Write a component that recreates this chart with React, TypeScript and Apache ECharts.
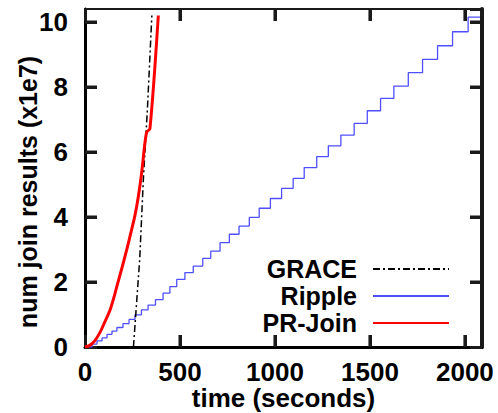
import React, { useEffect, useRef } from "react";
import * as echarts from "echarts";

const xTicks = [0, 500, 1000, 1500, 2000];
const yTicks = [0, 2, 4, 6, 8, 10];

const seriesNames = ["GRACE", "Ripple", "PR-Join"];

// GRACE (time s, results x1e7)
const graceTime = [255, 288, 308, 328, 352];
const graceVal = [0, 2.7, 5.25, 7.25, 10.2];

// Ripple: step corners (time where the step happens, new level)
const rippleTime = [
  0, 37, 63, 90, 116, 142, 168, 200, 232, 263, 297, 332, 371, 411, 447, 483, 526, 570, 620, 662,
  711, 760, 811, 865, 917, 976, 1035, 1096, 1154, 1220, 1281, 1347, 1417, 1486, 1556, 1626, 1702,
  1777, 1856, 1935, 2017, 2089,
];
const rippleVal = [
  0, 0.09, 0.19, 0.28, 0.39, 0.49, 0.6, 0.72, 0.85, 0.99, 1.14, 1.29, 1.46, 1.66, 1.86, 2.08, 2.29,
  2.49, 2.73, 2.95, 3.21, 3.47, 3.72, 3.99, 4.27, 4.57, 4.88, 5.19, 5.52, 5.86, 6.19, 6.52, 6.88,
  7.27, 7.65, 8.03, 8.44, 8.85, 9.27, 9.7, 10.15, 10.15,
];

// PR-Join
const prTime = [0, 25, 50, 79, 105, 132, 150, 167, 193, 219, 240, 263, 280, 298, 316, 326, 342, 386];
const prVal = [0, 0.05, 0.18, 0.45, 0.78, 1.14, 1.48, 1.85, 2.4, 2.98, 3.48, 4.05, 4.6, 5.35, 6.3, 6.62, 6.72, 10.2];

const X_MAX = 2090;
const Y_MAX = 10.4;

const FONT = "'Liberation Sans', Arial, Helvetica, sans-serif";
const INK = "#1a1a1a";

const zip = (a: number[], b: number[]) => a.map((v, i) => [v, b[i]]);

const TICK = 12;
const TW = 3;

export default function App() {
  const ref = useRef<HTMLDivElement>(null);
  useEffect(() => {
    if (!ref.current) return;
    const chart = echarts.init(ref.current, null, { renderer: "svg" });
    const labelStyle = {
      color: "#000",
      fontFamily: FONT,
      fontWeight: "bold" as const,
      fontSize: 26,
    };
    const legendCommon = (name: string, top: number) => ({
      data: [name],
      orient: "vertical" as const,
      right: 43,
      top,
      align: "right" as const,
      itemWidth: 76,
      itemHeight: 12,
      itemGap: 4,
      selectedMode: false,
      itemStyle: { opacity: 0 },
      textStyle: {
        color: "#000",
        fontFamily: FONT,
        fontWeight: "bold" as const,
        fontSize: 25,
        lineHeight: 26,
        padding: [0, 11, 0, 0],
      },
    });
    const fmt = (v: number) => String(v);
    const tickOpt = () => ({ show: true, inside: true, length: TICK, lineStyle: { color: INK, width: TW } });

    const renderXTick = (params: any, api: any) => {
      const v = api.value(0);
      const b = api.coord([v, 0]);
      const t = api.coord([v, Y_MAX]);
      if (v <= 0) return { type: "group", children: [] };
      return {
        type: "group",
        children: [
          { type: "line", shape: { x1: b[0], y1: b[1], x2: b[0], y2: b[1] - TICK }, style: { stroke: INK, lineWidth: TW } },
          { type: "line", shape: { x1: t[0], y1: t[1], x2: t[0], y2: t[1] + TICK }, style: { stroke: INK, lineWidth: TW } },
        ],
      };
    };
    const renderYTick = (params: any, api: any) => {
      const v = api.value(1);
      const l = api.coord([0, v]);
      const r = api.coord([X_MAX, v]);
      if (v <= 0) return { type: "group", children: [] };
      return {
        type: "group",
        children: [
          { type: "line", shape: { x1: l[0], y1: l[1], x2: l[0] + TICK, y2: l[1] }, style: { stroke: INK, lineWidth: TW } },
          { type: "line", shape: { x1: r[0], y1: r[1], x2: r[0] - TICK, y2: r[1] }, style: { stroke: INK, lineWidth: TW } },
        ],
      };
    };
    const renderFrame = (params: any, api: any) => {
      const lb = api.coord([0, 0]);
      const rt = api.coord([X_MAX, Y_MAX]);
      return {
        type: "group",
        children: [
          { type: "line", shape: { x1: lb[0], y1: rt[1], x2: rt[0], y2: rt[1] }, style: { stroke: INK, lineWidth: 2 } },
          { type: "line", shape: { x1: rt[0], y1: rt[1], x2: rt[0], y2: lb[1] }, style: { stroke: INK, lineWidth: 4 } },
        ],
      };
    };

    chart.setOption({
      animation: false,
      grid: {
        left: 85,
        right: 16,
        top: 9,
        bottom: 66,
        outerBoundsMode: "none",
      },
      legend: [legendCommon("GRACE", 251), legendCommon("Ripple", 278), legendCommon("PR-Join", 305)],
      xAxis: [
        {
          type: "value",
          min: 0,
          max: X_MAX,
          interval: 500,
          name: "time (seconds)",
          nameLocation: "middle",
          nameGap: 40,
          nameMoveOverlap: false,
          nameTextStyle: { ...labelStyle, fontSize: 26, lineHeight: 22 },
          axisLine: { show: true, onZero: false, lineStyle: { color: "#000", width: 3 } },
          axisTick: tickOpt(),
          splitLine: { show: false },
          axisLabel: { ...labelStyle, lineHeight: 22, margin: 14, showMaxLabel: false, formatter: fmt },
        },
        {
          type: "value",
          position: "top",
          min: 0,
          max: X_MAX,
          interval: 500,
          axisLine: { show: true, onZero: false, lineStyle: { color: INK, width: 2 } },
          axisTick: tickOpt(),
          axisLabel: { show: false },
          splitLine: { show: false },
        },
      ],
      yAxis: [
        {
          type: "value",
          min: 0,
          max: Y_MAX,
          interval: 2,
          name: "num join results (x1e7)",
          nameLocation: "middle",
          nameGap: 45,
          nameMoveOverlap: false,
          nameRotate: 90,
          nameTextStyle: { ...labelStyle, fontSize: 25, padding: [0, 28, 0, 0] },
          axisLine: { show: true, onZero: false, lineStyle: { color: "#000", width: 3 } },
          axisTick: tickOpt(),
          splitLine: { show: false },
          axisLabel: { ...labelStyle, margin: 17, showMaxLabel: false, formatter: fmt },
        },
        {
          type: "value",
          position: "right",
          min: 0,
          max: Y_MAX,
          interval: 2,
          axisLine: { show: true, onZero: false, lineStyle: { color: INK, width: 4 } },
          axisTick: tickOpt(),
          axisLabel: { show: false },
          splitLine: { show: false },
        },
      ],
      series: [
        {
          name: seriesNames[0],
          type: "line",
          data: zip(graceTime, graceVal),
          symbol: "none",
          lineStyle: { color: "#000", width: 1.5, type: [7, 3, 2, 3] },
          itemStyle: { color: "#000" },
          z: 3,
        },
        {
          name: seriesNames[1],
          type: "line",
          step: "end",
          data: zip(rippleTime, rippleVal),
          symbol: "none",
          lineStyle: { color: "#4f4fff", width: 1.3 },
          itemStyle: { color: "#4f4fff" },
          z: 2,
        },
        {
          name: seriesNames[2],
          type: "line",
          data: zip(prTime, prVal),
          symbol: "none",
          smooth: 0.3,
          lineStyle: { color: "#ff0000", width: 3 },
          itemStyle: { color: "#ff0000" },
          z: 4,
        },
        {
          name: "mirror",
          type: "line",
          xAxisIndex: 1,
          yAxisIndex: 1,
          data: [],
          silent: true,
        },
        {
          name: "xticks",
          type: "custom",
          data: xTicks.map((v) => [v, 0]),
          renderItem: renderXTick,
          silent: true,
          clip: false,
          z: 10,
        },
        {
          name: "yticks",
          type: "custom",
          data: yTicks.map((v) => [0, v]),
          renderItem: renderYTick,
          silent: true,
          clip: false,
          z: 10,
        },
        {
          name: "frame",
          type: "custom",
          data: [[0, 0]],
          renderItem: renderFrame,
          silent: true,
          clip: false,
          z: 10,
        },
      ],
    });

    return () => chart.dispose();
  }, []);
  return <div ref={ref} style={{ width: 498, height: 413, position: "absolute", left: 0, top: 0, background: "#fff" }} />;
}
